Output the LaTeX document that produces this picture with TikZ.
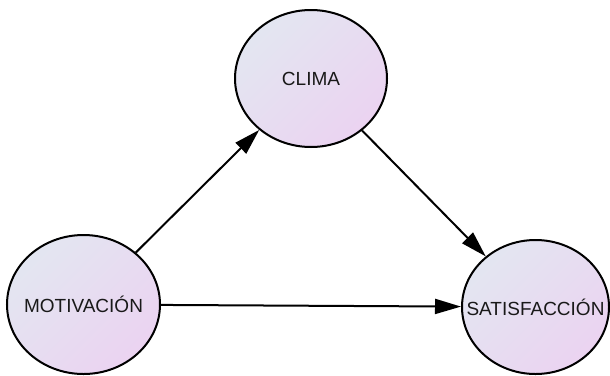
\documentclass[tikz,border=0pt]{standalone}
\usepackage{fontspec}
\setmainfont{Liberation Sans}
\usetikzlibrary{arrows.meta,shapes.geometric}
\definecolor{fillA}{HTML}{E3E6F1}
\definecolor{fillB}{HTML}{EBD3F1}

\begin{document}
\begin{tikzpicture}[x=1pt,y=-1pt,
    var/.style={ellipse,draw,line width=2pt,inner sep=0pt,
      top color=fillA,bottom color=fillB,shading angle=45},
    every label/.style={font=\fontsize{19}{22}\selectfont,text=black!90}]
            \useasboundingbox (0,0) rectangle (610,375);
            \begin{scope}
                \node[var,minimum width=152pt,minimum height=137pt,label=center:CLIMA] (c) at (311,78.5) {};
                \node[var,minimum width=153pt,minimum height=139pt,label=center:MOTIVACIÓN] (m) at (83.5,304.5) {};
                \node[var,minimum width=147pt,minimum height=134pt,label=center:SATISFACCIÓN] (s) at (535.5,307) {};
            \end{scope}

            \begin{scope}[line width=2pt]
                \path [-{Triangle[length=26pt,width=15pt]}] (m) edge (c);
                \path [-{Triangle[length=26pt,width=15pt]}] (c) edge (s);
                \path [-{Triangle[length=26pt,width=15pt]}] (m) edge (s);
            \end{scope}
\end{tikzpicture}
\end{document}
